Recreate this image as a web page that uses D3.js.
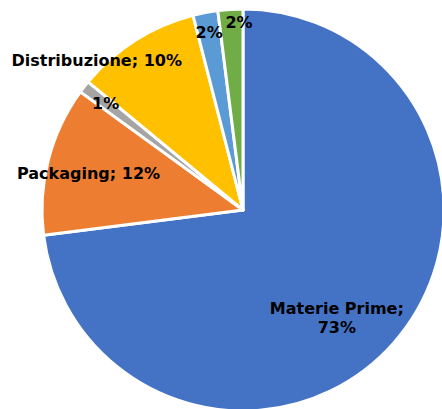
<!DOCTYPE html>
<html>
<head>
<meta charset="utf-8">
<script src="https://cdnjs.cloudflare.com/ajax/libs/d3/7.8.5/d3.min.js"></script>
<style>
  body { margin: 0; background: #fff; }
  text { font-family: "DejaVu Sans", Verdana, sans-serif; font-weight: bold; font-size: 16px; fill: #000; }
</style>
</head>
<body>
<div id="chart"></div>
<script>
// data
var categories = ['Materie Prime', 'Packaging', '', 'Distribuzione', '', ''];
var values = [73, 12, 1, 10, 2, 2];
var colors = ['#4472C4', '#ED7D31', '#A5A5A5', '#FFC000', '#5B9BD5', '#70AD47'];

// label placement (fraction of radius, extra angle in degrees)
var labelRadius = [0.71, 0.79, 0.865, 1.04, 0.9, 0.935];
var labelShift = [7.5, -1, 0, -12, 0, 2.4];

var width = 442, height = 409;
var cx = 243, cy = 210, radius = 201;

var svg = d3.select('#chart').append('svg')
  .attr('width', width)
  .attr('height', height);

var pie = d3.pie().sort(null).value(function(d) { return d; });
var arcs = pie(values);

var arc = d3.arc().innerRadius(0).outerRadius(radius);

var g = svg.append('g').attr('transform', 'translate(' + cx + ',' + cy + ')');

g.selectAll('path')
  .data(arcs)
  .enter()
  .append('path')
  .attr('d', arc)
  .attr('fill', function(d, i) { return colors[i]; })
  .attr('stroke', '#fff')
  .attr('stroke-width', 3)
  .attr('stroke-linejoin', 'round');

var labels = g.selectAll('text')
  .data(arcs)
  .enter()
  .append('text')
  .attr('text-anchor', 'middle')
  .attr('transform', function(d, i) {
    var a = (d.startAngle + d.endAngle) / 2 + labelShift[i] * Math.PI / 180;
    var r = radius * labelRadius[i];
    return 'translate(' + (r * Math.sin(a)) + ',' + (-r * Math.cos(a)) + ')';
  });

labels.each(function(d, i) {
  var t = d3.select(this);
  var pct = values[i] + '%';
  if (i === 0) {
    t.append('tspan').attr('x', 0).attr('dy', '-0.25em').text(categories[i] + ';');
    t.append('tspan').attr('x', 0).attr('dy', '1.2em').text(pct);
  } else if (categories[i]) {
    t.append('tspan').attr('x', 0).attr('dy', '0.35em').text(categories[i] + '; ' + pct);
  } else {
    t.append('tspan').attr('x', 0).attr('dy', '0.35em').text(pct);
  }
});
</script>
</body>
</html>
